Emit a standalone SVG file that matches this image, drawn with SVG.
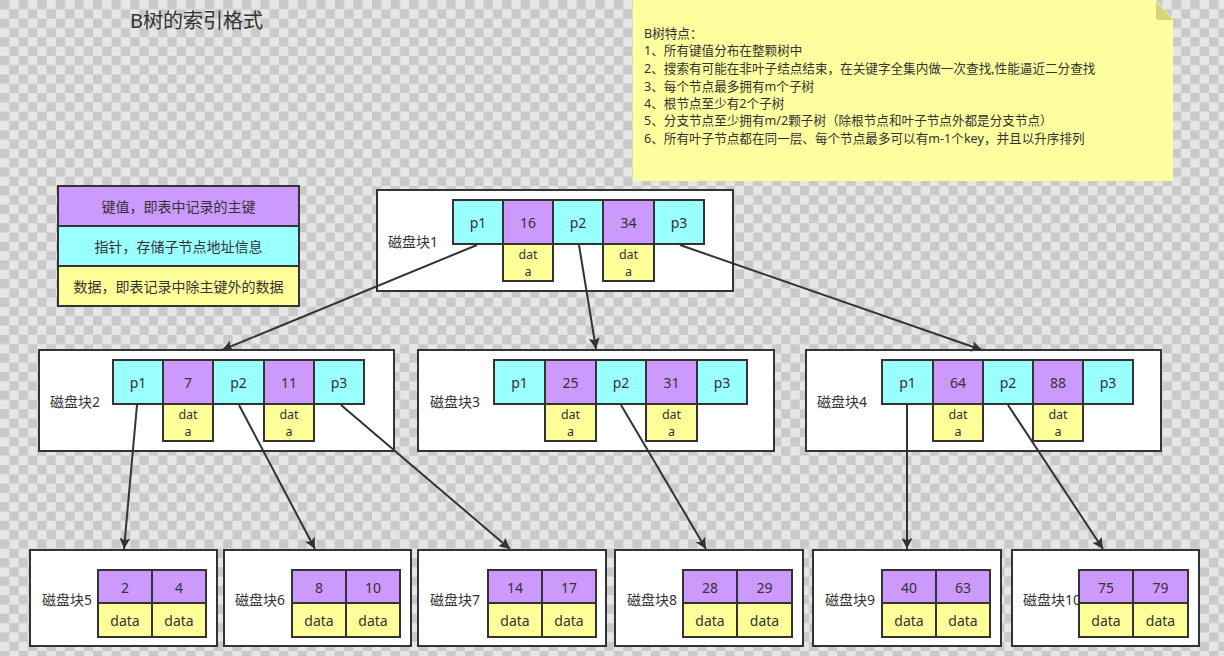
<svg xmlns="http://www.w3.org/2000/svg" width="1224" height="656" viewBox="0 0 1224 656">
<defs>
<pattern id="checker" x="0" y="0" width="18.6" height="18.6" patternUnits="userSpaceOnUse">
<rect width="18.6" height="18.6" fill="#e6e6e6"/>
<rect width="9.3" height="9.3" fill="#c9c9c9"/>
<rect x="9.3" y="9.3" width="9.3" height="9.3" fill="#c9c9c9"/>
</pattern>
<marker id="arrow" viewBox="0 0 10 10" refX="10" refY="5" markerWidth="11" markerHeight="11" markerUnits="userSpaceOnUse" orient="auto">
<path d="M0,0 L10,5 L0,10 L2,5 Z" fill="#333"/>
</marker>
</defs>
<style>
text{font-family:"Noto Sans","Noto Sans CJK SC",sans-serif;fill:#333;}
.blk{fill:#fff;stroke:#333;stroke-width:2;}
.ptr{fill:#99ffff;stroke:#333;stroke-width:2;}
.key{fill:#cc99ff;stroke:#333;stroke-width:2;}
.dat{fill:#ffff99;stroke:#333;stroke-width:2;}
.c{font-size:14px;text-anchor:middle;dominant-baseline:central;}
.w{font-size:12.5px;text-anchor:middle;}
.lbl{font-size:14px;dominant-baseline:central;}
.note{font-size:12.6px;}
.edge{stroke:#333;stroke-width:2;fill:none;marker-end:url(#arrow);}
</style>
<rect width="1224" height="656" fill="url(#checker)"/>

<text x="130" y="28" font-size="20">B树的索引格式</text>

<g id="note">
<path d="M633,0 L1156,0 L1173,19 L1173,181 L633,181 Z" fill="#ffff9f"/>
<path d="M1156,1 L1173,20 L1159,20 Q1156,20 1156,17 Z" fill="#d6d47a"/>
<text class="note" x="644" y="38">B树特点：</text>
<text class="note" x="644" y="55">1、所有键值分布在整颗树中</text>
<text class="note" x="644" y="73">2、搜索有可能在非叶子结点结束，在关键字全集内做一次查找,性能逼近二分查找</text>
<text class="note" x="644" y="90.5">3、每个节点最多拥有m个子树</text>
<text class="note" x="644" y="108">4、根节点至少有2个子树</text>
<text class="note" x="644" y="125">5、分支节点至少拥有m/2颗子树（除根节点和叶子节点外都是分支节点）</text>
<text class="note" x="644" y="142.5">6、所有叶子节点都在同一层、每个节点最多可以有m-1个key，并且以升序排列</text>
</g>

<g id="legend">
<rect class="key" x="58" y="186" width="241" height="40"/>
<rect class="ptr" x="58" y="226" width="241" height="40"/>
<rect class="dat" x="58" y="266" width="241" height="40"/>
<text class="c" x="178.5" y="206">键值，即表中记录的主键</text>
<text class="c" x="178.5" y="246">指针，存储子节点地址信息</text>
<text class="c" x="178.5" y="286">数据，即表记录中除主键外的数据</text>
</g>

<g id="block1">
<rect class="blk" x="377" y="190" width="356" height="101"/>
<text class="lbl" x="388" y="241">磁盘块1</text>
<rect class="ptr" x="453" y="200" width="50" height="44"/>
<rect class="key" x="503" y="200" width="50" height="44"/>
<rect class="ptr" x="553" y="200" width="50" height="44"/>
<rect class="key" x="603" y="200" width="51" height="44"/>
<rect class="ptr" x="654" y="200" width="50" height="44"/>
<rect class="dat" x="503" y="244" width="50" height="37"/>
<rect class="dat" x="603" y="244" width="51" height="37"/>
<text class="c" x="478" y="222">p1</text>
<text class="c" x="528" y="222">16</text>
<text class="c" x="578" y="222">p2</text>
<text class="c" x="628.5" y="222">34</text>
<text class="c" x="679" y="222">p3</text>
<text class="w" x="528" y="258.5">dat<tspan x="528" y="276">a</tspan></text>
<text class="w" x="628.5" y="258.5">dat<tspan x="628.5" y="276">a</tspan></text>
</g>

<g id="block2">
<rect class="blk" x="39" y="350" width="355" height="101"/>
<text class="lbl" x="50" y="401">磁盘块2</text>
<rect class="ptr" x="113" y="360" width="50" height="44"/>
<rect class="key" x="163" y="360" width="50" height="44"/>
<rect class="ptr" x="213" y="360" width="51" height="44"/>
<rect class="key" x="264" y="360" width="50" height="44"/>
<rect class="ptr" x="314" y="360" width="50" height="44"/>
<rect class="dat" x="163" y="404" width="50" height="37"/>
<rect class="dat" x="264" y="404" width="50" height="37"/>
<text class="c" x="138" y="382">p1</text>
<text class="c" x="188" y="382">7</text>
<text class="c" x="238.5" y="382">p2</text>
<text class="c" x="289" y="382">11</text>
<text class="c" x="339" y="382">p3</text>
<text class="w" x="188" y="418.5">dat<tspan x="188" y="436">a</tspan></text>
<text class="w" x="289" y="418.5">dat<tspan x="289" y="436">a</tspan></text>
</g>

<g id="block3">
<rect class="blk" x="418" y="350" width="356" height="101"/>
<text class="lbl" x="430" y="401">磁盘块3</text>
<rect class="ptr" x="494" y="360" width="51" height="44"/>
<rect class="key" x="545" y="360" width="51" height="44"/>
<rect class="ptr" x="596" y="360" width="50" height="44"/>
<rect class="key" x="646" y="360" width="51" height="44"/>
<rect class="ptr" x="697" y="360" width="50" height="44"/>
<rect class="dat" x="545" y="404" width="51" height="37"/>
<rect class="dat" x="646" y="404" width="51" height="37"/>
<text class="c" x="519.5" y="382">p1</text>
<text class="c" x="570.5" y="382">25</text>
<text class="c" x="621" y="382">p2</text>
<text class="c" x="671.5" y="382">31</text>
<text class="c" x="722" y="382">p3</text>
<text class="w" x="570.5" y="418.5">dat<tspan x="570.5" y="436">a</tspan></text>
<text class="w" x="671.5" y="418.5">dat<tspan x="671.5" y="436">a</tspan></text>
</g>

<g id="block4">
<rect class="blk" x="806" y="350" width="355" height="101"/>
<text class="lbl" x="817" y="401">磁盘块4</text>
<rect class="ptr" x="882" y="360" width="51" height="44"/>
<rect class="key" x="933" y="360" width="50" height="44"/>
<rect class="ptr" x="983" y="360" width="50" height="44"/>
<rect class="key" x="1033" y="360" width="50" height="44"/>
<rect class="ptr" x="1083" y="360" width="50" height="44"/>
<rect class="dat" x="933" y="404" width="50" height="37"/>
<rect class="dat" x="1033" y="404" width="50" height="37"/>
<text class="c" x="907.5" y="382">p1</text>
<text class="c" x="958" y="382">64</text>
<text class="c" x="1008" y="382">p2</text>
<text class="c" x="1058" y="382">88</text>
<text class="c" x="1108" y="382">p3</text>
<text class="w" x="958" y="418.5">dat<tspan x="958" y="436">a</tspan></text>
<text class="w" x="1058" y="418.5">dat<tspan x="1058" y="436">a</tspan></text>
</g>

<g id="block5">
<rect class="blk" x="30" y="550" width="187" height="96"/>
<text class="lbl" x="42" y="599">磁盘块5</text>
<rect class="key" x="98" y="570" width="54" height="33"/>
<rect class="key" x="152" y="570" width="54" height="33"/>
<rect class="dat" x="98" y="603" width="54" height="34"/>
<rect class="dat" x="152" y="603" width="54" height="34"/>
<text class="c" x="125" y="587">2</text>
<text class="c" x="179" y="587">4</text>
<text class="c" x="125" y="620">data</text>
<text class="c" x="179" y="620">data</text>
</g>

<g id="block6">
<rect class="blk" x="224" y="550" width="187" height="96"/>
<text class="lbl" x="235" y="599">磁盘块6</text>
<rect class="key" x="292" y="570" width="54" height="33"/>
<rect class="key" x="346" y="570" width="54" height="33"/>
<rect class="dat" x="292" y="603" width="54" height="34"/>
<rect class="dat" x="346" y="603" width="54" height="34"/>
<text class="c" x="319" y="587">8</text>
<text class="c" x="373" y="587">10</text>
<text class="c" x="319" y="620">data</text>
<text class="c" x="373" y="620">data</text>
</g>

<g id="block7">
<rect class="blk" x="418" y="550" width="188" height="96"/>
<text class="lbl" x="430" y="599">磁盘块7</text>
<rect class="key" x="488" y="570" width="54" height="33"/>
<rect class="key" x="542" y="570" width="54" height="33"/>
<rect class="dat" x="488" y="603" width="54" height="34"/>
<rect class="dat" x="542" y="603" width="54" height="34"/>
<text class="c" x="515" y="587">14</text>
<text class="c" x="569" y="587">17</text>
<text class="c" x="515" y="620">data</text>
<text class="c" x="569" y="620">data</text>
</g>

<g id="block8">
<rect class="blk" x="615" y="550" width="188" height="96"/>
<text class="lbl" x="627" y="599">磁盘块8</text>
<rect class="key" x="683" y="570" width="54" height="33"/>
<rect class="key" x="737" y="570" width="55" height="33"/>
<rect class="dat" x="683" y="603" width="54" height="34"/>
<rect class="dat" x="737" y="603" width="55" height="34"/>
<text class="c" x="710" y="587">28</text>
<text class="c" x="764.5" y="587">29</text>
<text class="c" x="710" y="620">data</text>
<text class="c" x="764.5" y="620">data</text>
</g>

<g id="block9">
<rect class="blk" x="813" y="550" width="188" height="96"/>
<text class="lbl" x="825" y="599">磁盘块9</text>
<rect class="key" x="882" y="570" width="54" height="33"/>
<rect class="key" x="936" y="570" width="54" height="33"/>
<rect class="dat" x="882" y="603" width="54" height="34"/>
<rect class="dat" x="936" y="603" width="54" height="34"/>
<text class="c" x="909" y="587">40</text>
<text class="c" x="963" y="587">63</text>
<text class="c" x="909" y="620">data</text>
<text class="c" x="963" y="620">data</text>
</g>

<g id="block10">
<rect class="blk" x="1012" y="550" width="187" height="96"/>
<text class="lbl" x="1023" y="599">磁盘块10</text>
<rect class="key" x="1079" y="570" width="54" height="33"/>
<rect class="key" x="1133" y="570" width="55" height="33"/>
<rect class="dat" x="1079" y="603" width="54" height="34"/>
<rect class="dat" x="1133" y="603" width="55" height="34"/>
<text class="c" x="1106" y="587">75</text>
<text class="c" x="1160.5" y="587">79</text>
<text class="c" x="1106" y="620">data</text>
<text class="c" x="1160.5" y="620">data</text>
</g>

<g id="connectors">
<line class="edge" x1="477" y1="245" x2="222" y2="350"/>
<line class="edge" x1="579" y1="245" x2="596" y2="349"/>
<line class="edge" x1="680" y1="245" x2="982" y2="350"/>
<line class="edge" x1="137" y1="405" x2="124" y2="549"/>
<line class="edge" x1="239" y1="405" x2="315" y2="549"/>
<line class="edge" x1="341" y1="405" x2="510" y2="549"/>
<line class="edge" x1="621" y1="405" x2="706" y2="549"/>
<line class="edge" x1="907" y1="405" x2="907" y2="549"/>
<line class="edge" x1="1008" y1="405" x2="1103" y2="549"/>
</g>
</svg>
